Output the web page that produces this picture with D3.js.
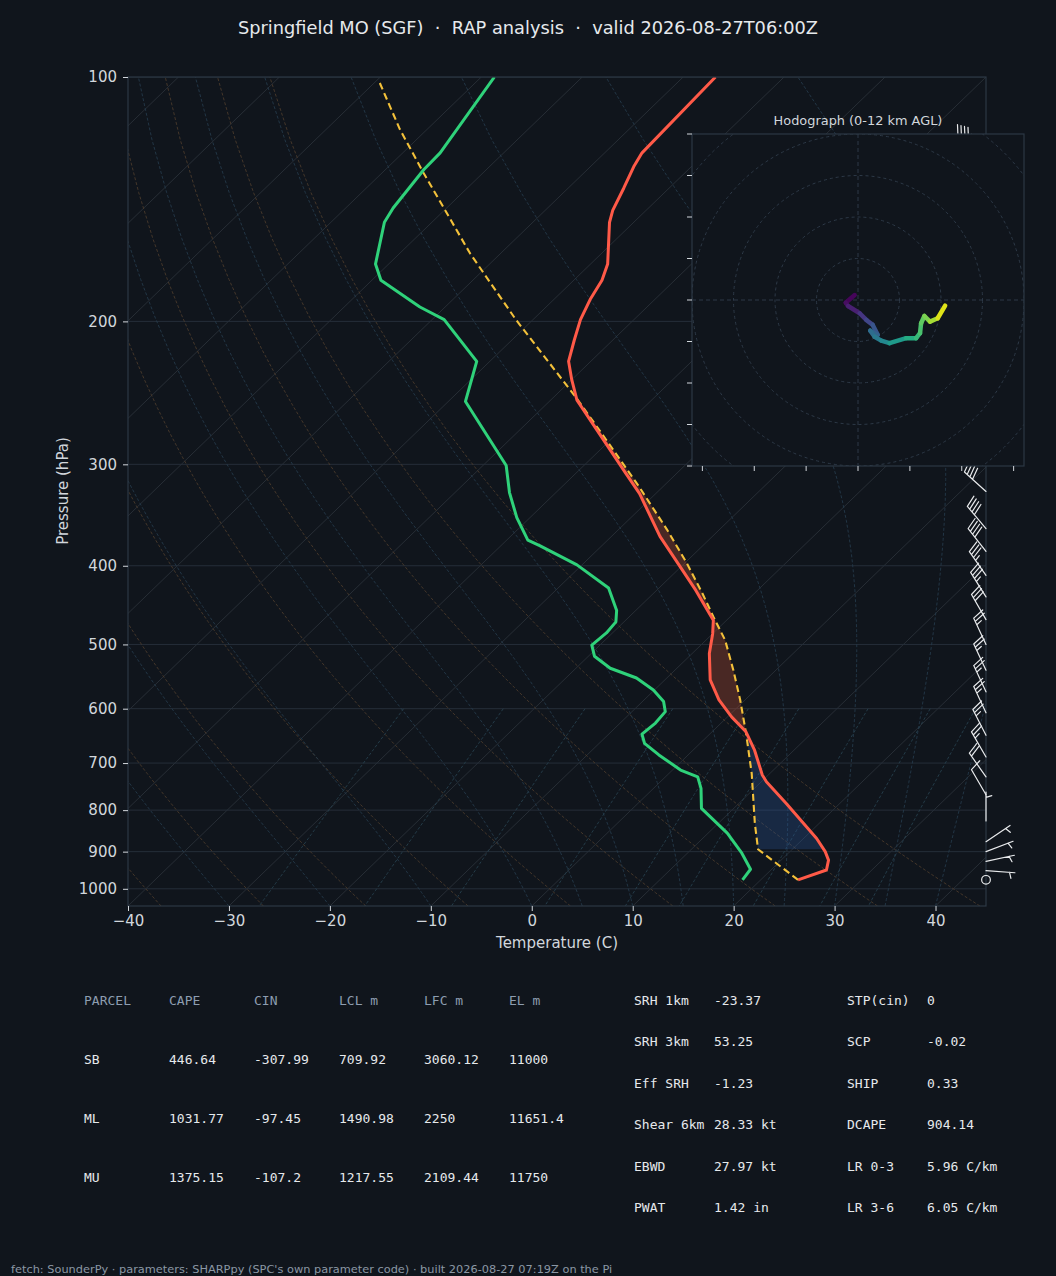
<!DOCTYPE html>
<html>
<head>
<meta charset="utf-8">
<script src="https://cdn.jsdelivr.net/npm/d3@7"></script>
<style>
  body { margin: 0; background: #10151c; }
  svg { display: block; font-family: "DejaVu Sans", sans-serif; }
</style>
</head>
<body>
<svg id="chart" width="1056" height="1276"></svg>
<script>
// ---- sounding values (pressure hPa, temperature C) ----
const tempP = [975, 948, 922, 900, 867, 785, 738, 724, 675, 640, 614, 585, 553, 513, 485, 467, 429, 401, 368, 326, 308, 250, 236, 224, 211, 199, 188, 178, 170, 151, 146, 137, 129, 124, 100];
const tempT = [23.7, 25.5, 24.7, 23.5, 21.3, 14.7, 10.5, 9.4, 6.1, 3.3, 0.4, -2.6, -5.5, -8.3, -10.0, -11.3, -16.1, -20.1, -25.2, -31.6, -35.0, -47.4, -50.0, -52.2, -53.8, -55.3, -56.4, -57.2, -58.3, -62.4, -63.3, -64.5, -65.7, -66.3, -66.8];

const dewP = [975, 946, 904, 854, 796, 752, 728, 714, 684, 662, 645, 625, 605, 588, 569, 550, 535, 517, 501, 484, 469, 454, 426, 399, 378, 372, 349, 325, 301, 251, 224, 199, 192, 178, 170, 151, 145, 130, 124, 100];
const dewT = [18.2, 17.9, 15.4, 11.9, 6.8, 4.7, 3.2, 0.8, -2.9, -5.5, -6.7, -6.5, -6.7, -7.9, -10.1, -13.0, -16.6, -19.4, -20.8, -20.6, -20.8, -21.9, -25.0, -30.5, -36.1, -37.9, -41.3, -44.6, -47.7, -58.3, -61.3, -68.8, -72.5, -79.1, -81.3, -84.7, -85.3, -86.2, -86.3, -88.7];

const parcelP = [975, 894, 830, 721, 643, 585, 538, 494, 462, 433, 397, 361, 320, 280, 250, 199, 165, 131, 116, 101];
const parcelT = [23.7, 16.6, 13.6, 8.2, 3.5, -0.5, -4.2, -8.1, -11.7, -15.1, -19.8, -25.2, -32.3, -40.4, -47.3, -61.7, -73.0, -86.0, -92.7, -99.8];

// wind barbs (pressure hPa, direction from deg, speed kt)
const barbP   = [121, 135, 148, 162, 178, 195, 213, 232, 254, 278, 300, 324, 360, 384, 411, 437, 466, 500, 538, 572, 607, 647, 688, 728, 766, 825, 875, 900, 925, 950, 975];
const barbDir = [285, 290, 295, 300, 300, 300, 300, 300, 305, 305, 308, 312, 320, 322, 325, 328, 330, 335, 335, 335, 335, 333, 330, 325, 330, 0, 56, 69, 78, 94, 0];
const barbSpd = [45, 45, 45, 45, 45, 45, 45, 45, 45, 40, 40, 40, 40, 40, 35, 35, 30, 25, 25, 25, 25, 25, 25, 20, 10, 5, 5, 5, 5, 5, 0];

// hodograph trace (kt) and height AGL (km) for the colour
const hodoU = [-1.6, -5.9, -4.8, 0.8, 4.0, 7.1, 9.5, 5.9, 8.0, 11.2, 15.2, 23.2, 28.0, 29.9, 30.4, 32.0, 34.7, 38.4, 42.0];
const hodoV = [2.4, -1.3, -2.9, -6.4, -9.6, -12.0, -16.8, -14.8, -17.7, -19.6, -20.8, -18.4, -18.4, -16.0, -11.2, -7.7, -10.4, -8.8, -2.7];
const hodoZ = [0, 0.3, 0.6, 1.5, 2.2, 2.8, 3.5, 4.0, 4.5, 5.2, 6.0, 7.0, 7.8, 8.3, 8.8, 9.3, 10.0, 10.8, 12.0];

// parcel table
const parcelHeader = ["PARCEL", "CAPE", "CIN", "LCL m", "LFC m", "EL m"];
const parcelNames = ["SB", "ML", "MU"];
const parcelCape = [446.64, 1031.77, 1375.15];
const parcelCin = [-307.99, -97.45, -107.2];
const parcelLcl = [709.92, 1490.98, 1217.55];
const parcelLfc = [3060.12, 2250, 2109.44];
const parcelEl = [11000, 11651.4, 11750];

// index table
const indexNamesA = ["SRH 1km", "SRH 3km", "Eff SRH", "Shear 6km", "EBWD", "PWAT"];
const indexValsA = ["-23.37", "53.25", "-1.23", "28.33 kt", "27.97 kt", "1.42 in"];
const indexNamesB = ["STP(cin)", "SCP", "SHIP", "DCAPE", "LR 0-3", "LR 3-6"];
const indexValsB = ["0", "-0.02", "0.33", "904.14", "5.96 C/km", "6.05 C/km"];

const titleText = "Springfield MO (SGF)  \u00b7  RAP analysis  \u00b7  valid 2026-08-27T06:00Z";
const footerText = "fetch: SounderPy \u00b7 parameters: SHARPpy (SPC's own parameter code) \u00b7 built 2026-08-27 07:19Z on the Pi";

const pTicks = [100, 200, 300, 400, 500, 600, 700, 800, 900, 1000];
const tTicks = [-40, -30, -20, -10, 0, 10, 20, 30, 40];

// ---- colours ----
const bg = "#10151c";
const frameCol = "#2c3744";
const gridCol = "#252e39";
const textCol = "#d2d7dc";
const barbCol = "#e8eaec";

// ---- skew-T geometry ----
const L = 128, R = 986, T = 77, B = 906;
const x = d3.scaleLinear().domain([-40, 45]).range([L, R]);
const y = d3.scaleLog().domain([1050, 100]).range([B, T]);
// 45 degree skew applied in axes space
const sx = (t, p) => x(t) + (B - y(p)) * (R - L) / (B - T);

const svg = d3.select("#chart");
svg.append("rect").attr("width", 1056).attr("height", 1276).attr("fill", bg);

svg.append("text")
  .attr("x", 528).attr("y", 27)
  .attr("text-anchor", "middle").attr("dominant-baseline", "central")
  .style("white-space", "pre")
  .attr("fill", "#e6e9ec").attr("font-size", 17.8)
  .text(titleText);

const defs = svg.append("defs");
defs.append("clipPath").attr("id", "plotClip")
  .append("rect").attr("x", L).attr("y", T).attr("width", R - L).attr("height", B - T);

const plot = svg.append("g").attr("clip-path", "url(#plotClip)");

// thermodynamics for the reference curves
const Rd = 287.04749, Cp = 1004.6662, Lv = 2.50084e6, eps = 0.6219569;
const satVap = tc => 6.112 * Math.exp(17.67 * tc / (tc + 243.5));
function dTdp(p, tk) {
  const es = satVap(tk - 273.15);
  const rs = eps * es / (p - es);
  return ((Rd * tk + Lv * rs) / p) / (Cp + (Lv * Lv * rs * eps) / (Rd * tk * tk));
}
const pLevels = d3.range(50).map(i => 1050 + (100 - 1050) * i / 49);

function moistCurve(t0) {
  let tk = t0 + 273.15;
  const out = [[pLevels[0], t0]];
  for (let i = 1; i < pLevels.length; i++) {
    const n = 6, h = (pLevels[i] - pLevels[i - 1]) / n;
    let p = pLevels[i - 1];
    for (let k = 0; k < n; k++) {
      const k1 = dTdp(p, tk), k2 = dTdp(p + h / 2, tk + h * k1 / 2);
      const k3 = dTdp(p + h / 2, tk + h * k2 / 2), k4 = dTdp(p + h, tk + h * k3);
      tk += h * (k1 + 2 * k2 + 2 * k3 + k4) / 6;
      p += h;
    }
    out.push([pLevels[i], tk - 273.15]);
  }
  return out;
}

const curve = d3.line().x(d => sx(d[1], d[0])).y(d => y(d[0]));

// isotherms (also the skewed ones beyond the tick range)
d3.range(-130, 41, 10).forEach(t => {
  plot.append("line")
    .attr("x1", sx(t, 1050)).attr("y1", B).attr("x2", sx(t, 100)).attr("y2", T)
    .attr("stroke", "#2a3139").attr("stroke-width", 0.9);
});
// isobars
pTicks.forEach(p => {
  plot.append("line").attr("x1", L).attr("x2", R).attr("y1", y(p)).attr("y2", y(p))
    .attr("stroke", gridCol).attr("stroke-width", 1);
});
// dry adiabats
d3.range(-40, 41, 10).forEach(t0 => {
  const pts = pLevels.map(p => [p, (t0 + 273.15) * Math.pow(p / 1000, 0.2857) - 273.15]);
  plot.append("path").attr("d", curve(pts)).attr("fill", "none")
    .attr("stroke", "#4a3a2b").attr("stroke-width", 0.9).attr("stroke-dasharray", "3,2");
});
// moist adiabats
[-40, -30, -20, -10, 0, 5, 10, 15, 20, 25, 30, 35, 40, 45].forEach(t0 => {
  plot.append("path").attr("d", curve(moistCurve(t0))).attr("fill", "none")
    .attr("stroke", "#24394a").attr("stroke-width", 0.9).attr("stroke-dasharray", "3,2");
});
// mixing ratio lines
[0.0004, 0.001, 0.002, 0.004, 0.007, 0.01, 0.016, 0.024, 0.032].forEach(w => {
  const pts = d3.range(50).map(i => {
    const p = 600 + (1050 - 600) * i / 49;
    const v = Math.log((p * w / (eps + w)) / 6.112);
    return [p, 243.5 * v / (17.67 - v)];
  });
  plot.append("path").attr("d", curve(pts)).attr("fill", "none")
    .attr("stroke", "#26404d").attr("stroke-width", 0.9).attr("stroke-dasharray", "3,2");
});

// ---- CIN / CAPE shading between environment and parcel ----
function interpLog(P, V, p) {
  for (let i = 0; i < P.length - 1; i++) {
    if (p <= P[i] && p >= P[i + 1]) {
      const f = Math.log(P[i] / p) / Math.log(P[i] / P[i + 1]);
      return V[i] + f * (V[i + 1] - V[i]);
    }
  }
  return NaN;
}
const fillGrid = d3.range(0, 260).map(i => 894 * Math.exp(-i * 0.005)).map(p => ({
  p: p, env: interpLog(tempP, tempT, p), par: interpLog(parcelP, parcelT, p)
}));
const shade = d3.area()
  .y(d => y(d.p))
  .x0(d => sx(d.par, d.p))
  .x1(d => sx(d.env, d.p));
plot.append("path")
  .attr("d", shade.defined(d => d.p > 600 && d.env >= d.par)(fillGrid))
  .attr("fill", "#2a5aa0").attr("fill-opacity", 0.3);
plot.append("path")
  .attr("d", shade.defined(d => d.p >= 250 && d.par > d.env)(fillGrid))
  .attr("fill", "#e05a3a").attr("fill-opacity", 0.28);

// ---- profiles ----
plot.append("path")
  .attr("d", curve(parcelP.map((p, i) => [p, parcelT[i]])))
  .attr("fill", "none").attr("stroke", "#f3c13a").attr("stroke-width", 2.1)
  .attr("stroke-dasharray", "7,4");
plot.append("path")
  .attr("d", curve(dewP.map((p, i) => [p, dewT[i]])))
  .attr("fill", "none").attr("stroke", "#2fd27a").attr("stroke-width", 3)
  .attr("stroke-linejoin", "round");
plot.append("path")
  .attr("d", curve(tempP.map((p, i) => [p, tempT[i]])))
  .attr("fill", "none").attr("stroke", "#ff5a48").attr("stroke-width", 3)
  .attr("stroke-linejoin", "round");

// frame
svg.append("rect").attr("x", L).attr("y", T).attr("width", R - L).attr("height", B - T)
  .attr("fill", "none").attr("stroke", frameCol).attr("stroke-width", 1.2);

// axes
const xAxis = svg.append("g").attr("transform", `translate(0,${B})`)
  .call(d3.axisBottom(x).tickValues(tTicks).tickSize(5).tickPadding(4).tickSizeOuter(0));
const yAxis = svg.append("g").attr("transform", `translate(${L},0)`)
  .call(d3.axisLeft(y).tickValues(pTicks).tickFormat(d3.format("d")).tickSize(5).tickPadding(6).tickSizeOuter(0));
[xAxis, yAxis].forEach(a => {
  a.select(".domain").remove();
  a.selectAll(".tick line").attr("stroke", textCol);
  a.selectAll(".tick text").attr("fill", textCol).attr("font-size", 15)
    .attr("font-family", "DejaVu Sans");
});

svg.append("text").attr("x", 557).attr("y", 943)
  .attr("text-anchor", "middle").attr("dominant-baseline", "central")
  .attr("fill", textCol).attr("font-size", 15).text("Temperature (C)");
svg.append("text").attr("transform", "translate(63,491) rotate(-90)")
  .attr("text-anchor", "middle").attr("dominant-baseline", "central")
  .attr("fill", textCol).attr("font-size", 15).text("Pressure (hPa)");

// ---- wind barbs on the right edge ----
const barbG = svg.append("g");
function drawBarb(bx, by, dirFrom, spd) {
  const len = 29, hgt = 0.4 * len, wid = 0.25 * len, gap = 0.125 * len;
  let r = Math.round(spd / 5) * 5;
  if (r < 5) {
    barbG.append("circle").attr("cx", bx).attr("cy", by).attr("r", 0.15 * len)
      .attr("fill", "none").attr("stroke", barbCol).attr("stroke-width", 1.2);
    return;
  }
  const a = dirFrom * Math.PI / 180;
  const s = [Math.sin(a), -Math.cos(a)];
  const c = [-s[1], s[0]];
  const P = (lx, ly) => [bx + ly * s[0] + lx * c[0], by + ly * s[1] + lx * c[1]];
  const nf = Math.floor(r / 50); r -= nf * 50;
  const nb = Math.floor(r / 10); r -= nb * 10;
  const half = r >= 5;
  const path = d3.path();
  path.moveTo(bx, by);
  path.lineTo(...P(0, len));
  let off = len;
  for (let i = 0; i < nf; i++) {
    const f = [P(0, off), P(hgt, off - wid / 2), P(0, off - wid)];
    barbG.append("path").attr("d", "M" + f.join("L") + "Z").attr("fill", barbCol);
    off -= wid + gap;
  }
  for (let i = 0; i < nb; i++) {
    path.moveTo(...P(0, off));
    path.lineTo(...P(hgt, off + wid / 2));
    off -= gap;
  }
  if (half) {
    if (off === len) off -= 1.5 * gap;
    path.moveTo(...P(0, off));
    path.lineTo(...P(hgt / 2, off + wid / 4));
  }
  barbG.append("path").attr("d", path.toString()).attr("fill", "none")
    .attr("stroke", barbCol).attr("stroke-width", 1.2).attr("stroke-linecap", "round");
}
barbP.forEach((p, i) => drawBarb(R, y(p), barbDir[i], barbSpd[i]));

// ---- hodograph inset ----
const hx = d3.scaleLinear().domain([-80, 80]).range([692, 1024]);
const hy = d3.scaleLinear().domain([-80, 80]).range([466, 134]);
const hodo = svg.append("g");
defs.append("clipPath").attr("id", "hodoClip")
  .append("rect").attr("x", 692).attr("y", 134).attr("width", 332).attr("height", 332);
hodo.append("rect").attr("x", 692).attr("y", 134).attr("width", 332).attr("height", 332).attr("fill", bg);
const hodoIn = hodo.append("g").attr("clip-path", "url(#hodoClip)");
[20, 40, 60, 80, 100, 120].forEach(k => {
  hodoIn.append("circle").attr("cx", hx(0)).attr("cy", hy(0)).attr("r", hx(k) - hx(0))
    .attr("fill", "none").attr("stroke", "#2d3947").attr("stroke-width", 1).attr("stroke-dasharray", "3,3");
});
hodoIn.append("line").attr("x1", 692).attr("x2", 1024).attr("y1", hy(0)).attr("y2", hy(0))
  .attr("stroke", "#2d3947").attr("stroke-dasharray", "4,3");
hodoIn.append("line").attr("y1", 134).attr("y2", 466).attr("x1", hx(0)).attr("x2", hx(0))
  .attr("stroke", "#2d3947").attr("stroke-dasharray", "4,3");
for (let i = 0; i < hodoU.length - 1; i++) {
  hodoIn.append("line")
    .attr("x1", hx(hodoU[i])).attr("y1", hy(hodoV[i]))
    .attr("x2", hx(hodoU[i + 1])).attr("y2", hy(hodoV[i + 1]))
    .attr("stroke", d3.interpolateViridis((hodoZ[i] + hodoZ[i + 1]) / 24))
    .attr("stroke-width", 4.5).attr("stroke-linecap", "round");
}
hodo.append("rect").attr("x", 692).attr("y", 134).attr("width", 332).attr("height", 332)
  .attr("fill", "none").attr("stroke", frameCol).attr("stroke-width", 1.2);
d3.range(-80, 81, 20).forEach(v => {
  hodo.append("line").attr("x1", 687).attr("x2", 692).attr("y1", hy(v)).attr("y2", hy(v))
    .attr("stroke", textCol).attr("stroke-width", 1);
});
d3.range(-75, 76, 25).forEach(u => {
  hodo.append("line").attr("y1", 466).attr("y2", 471).attr("x1", hx(u)).attr("x2", hx(u))
    .attr("stroke", textCol).attr("stroke-width", 1);
});
hodo.append("text").attr("x", 858).attr("y", 120)
  .attr("text-anchor", "middle").attr("dominant-baseline", "central")
  .attr("fill", textCol).attr("font-size", 12.9).text("Hodograph (0-12 km AGL)");

// ---- parameter tables ----
const mono = "DejaVu Sans Mono, monospace";
const tbl = svg.append("g").attr("font-family", mono).attr("font-size", 13);
const colX = [84, 169, 254, 339, 424, 509];
const rowY = [1000, 1059, 1118, 1177];
parcelHeader.forEach((h, j) => {
  tbl.append("text").attr("x", colX[j]).attr("y", rowY[0]).attr("dominant-baseline", "central")
    .attr("fill", "#8d9db0").text(h);
});
parcelNames.forEach((n, i) => {
  const row = [n, parcelCape[i], parcelCin[i], parcelLcl[i], parcelLfc[i], parcelEl[i]];
  row.forEach((v, j) => {
    tbl.append("text").attr("x", colX[j]).attr("y", rowY[i + 1]).attr("dominant-baseline", "central")
      .attr("fill", "#e6e9ec").text(String(v));
  });
});
const idxY = [1000, 1041, 1083, 1124, 1166, 1207];
indexNamesA.forEach((n, i) => {
  tbl.append("text").attr("x", 634).attr("y", idxY[i]).attr("dominant-baseline", "central")
    .attr("fill", "#e6e9ec").text(n);
  tbl.append("text").attr("x", 714).attr("y", idxY[i]).attr("dominant-baseline", "central")
    .attr("fill", "#e6e9ec").text(indexValsA[i]);
});
indexNamesB.forEach((n, i) => {
  tbl.append("text").attr("x", 847).attr("y", idxY[i]).attr("dominant-baseline", "central")
    .attr("fill", "#e6e9ec").text(n);
  tbl.append("text").attr("x", 927).attr("y", idxY[i]).attr("dominant-baseline", "central")
    .attr("fill", "#e6e9ec").text(indexValsB[i]);
});

svg.append("text").attr("x", 11).attr("y", 1269).attr("dominant-baseline", "central")
  .attr("fill", "#8b97a4").attr("font-size", 11.35).text(footerText);
</script>
</body>
</html>
